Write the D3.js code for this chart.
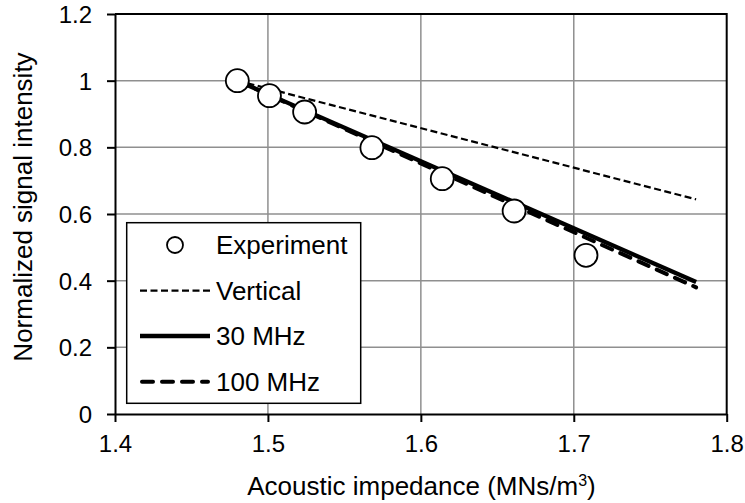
<!DOCTYPE html>
<html>
<head>
<meta charset="utf-8">
<script src="https://cdn.jsdelivr.net/npm/d3@7"></script>
<style>
  html, body { margin: 0; padding: 0; background: #fff; }
  svg { display: block; font-family: "Liberation Sans", Arial, sans-serif; }
</style>
</head>
<body>
<svg id="chart" width="745" height="503"></svg>
<script>
// Measured signal vs. acoustic impedance
const impedance = [1.48, 1.501, 1.524, 1.568, 1.614, 1.661, 1.708];
const experiment = [1.0, 0.955, 0.906, 0.799, 0.706, 0.609, 0.476];

// Model curves (start and end of each fitted line)
const modelImpedance = [1.48, 1.78];
const vertical = [1.0, 0.644];
const mhz30 = [1.0, 0.396];
const mhz100 = [1.0, 0.380];

const xTicks = [1.4, 1.5, 1.6, 1.7, 1.8];
const yTicks = [0, 0.2, 0.4, 0.6, 0.8, 1.0, 1.2];
const xTickLabels = ["1.4", "1.5", "1.6", "1.7", "1.8"];
const yTickLabels = ["0", "0.2", "0.4", "0.6", "0.8", "1", "1.2"];

const legendLabels = ["Experiment", "Vertical", "30 MHz", "100 MHz"];

const svg = d3.select("#chart");
const plot = { left: 115, right: 726.7, top: 14, bottom: 414 };

const x = d3.scaleLinear().domain([1.4, 1.8]).range([plot.left, plot.right]);
const y = d3.scaleLinear().domain([0, 1.2]).range([plot.bottom, plot.top]);

// Gridlines
const grid = svg.append("g").attr("stroke", "#8f8f8f").attr("stroke-width", 1.5);
grid.selectAll("line.v").data(xTicks.slice(1, -1)).join("line")
  .attr("x1", d => x(d)).attr("x2", d => x(d))
  .attr("y1", plot.top).attr("y2", plot.bottom);
grid.selectAll("line.h").data(yTicks.slice(1, -1)).join("line")
  .attr("x1", plot.left).attr("x2", plot.right)
  .attr("y1", d => y(d)).attr("y2", d => y(d));

// Frame: top and right edges
svg.append("path")
  .attr("d", `M${plot.left},${plot.top}H${plot.right}V${plot.bottom}`)
  .attr("fill", "none").attr("stroke", "#000").attr("stroke-width", 2);

// Axes
const xAxis = d3.axisBottom(x).tickValues(xTicks)
  .tickFormat((d, i) => xTickLabels[i]).tickSize(8).tickPadding(8).tickSizeOuter(0);
const yAxis = d3.axisLeft(y).tickValues(yTicks)
  .tickFormat((d, i) => yTickLabels[i]).tickSize(8).tickPadding(15).tickSizeOuter(0);

const gx = svg.append("g").attr("transform", `translate(0,${plot.bottom})`).call(xAxis);
const gy = svg.append("g").attr("transform", `translate(${plot.left},0)`).call(yAxis);
[gx, gy].forEach(g => {
  g.select(".domain").attr("stroke", "#000").attr("stroke-width", 2);
  g.selectAll(".tick line").attr("stroke", "#000").attr("stroke-width", 2);
  g.selectAll(".tick text").attr("fill", "#000")
    .style("font-size", "24px").style("font-family", "'Liberation Sans', Arial, sans-serif");
});
gy.selectAll(".tick text").attr("dy", "0.36em");
gx.selectAll(".tick text").attr("dy", "0.9em");

// Model lines
const line = d3.line().x(d => x(d[0])).y(d => y(d[1]));
const series = [
  { values: vertical, width: 2.2, dash: "7,3.5", cap: "butt" },
  { values: mhz100, width: 4, dash: "11,9", cap: "round" },
  { values: mhz30, width: 4.3, dash: null, cap: "butt" }
];
series.forEach(s => {
  svg.append("path")
    .datum(modelImpedance.map((v, i) => [v, s.values[i]]))
    .attr("d", line)
    .attr("fill", "none")
    .attr("stroke", "#000")
    .attr("stroke-width", s.width)
    .attr("stroke-dasharray", s.dash)
    .attr("stroke-linecap", s.cap);
});

// Experimental points
svg.append("g").selectAll("circle")
  .data(impedance.map((v, i) => [v, experiment[i]]))
  .join("circle")
  .attr("cx", d => x(d[0])).attr("cy", d => y(d[1]))
  .attr("r", 11.5)
  .attr("fill", "#fff").attr("stroke", "#000").attr("stroke-width", 1.8);

// Legend
const legend = svg.append("g");
legend.append("rect")
  .attr("x", 126.7).attr("y", 222.7).attr("width", 234).attr("height", 180.6)
  .attr("fill", "#fff").attr("stroke", "#000").attr("stroke-width", 1.5);

const rowY = [245, 290.7, 336, 381.7];
const lx1 = 140, lx2 = 210, tx = 216;
legend.append("circle").attr("cx", 175).attr("cy", rowY[0]).attr("r", 8)
  .attr("fill", "#fff").attr("stroke", "#000").attr("stroke-width", 1.8);
[series[0], series[2], series[1]].forEach((s, i) => {
  legend.append("line")
    .attr("x1", lx1 + (s.cap === "round" ? 2 : 0)).attr("x2", lx2 - (s.cap === "round" ? 2 : 0))
    .attr("y1", rowY[i + 1]).attr("y2", rowY[i + 1])
    .attr("stroke", "#000").attr("stroke-width", s.width)
    .attr("stroke-dasharray", s.dash).attr("stroke-linecap", s.cap);
});
legend.selectAll("text").data(legendLabels).join("text")
  .attr("x", tx).attr("y", (d, i) => rowY[i] + 9)
  .style("font-size", "26px")
  .text(d => d);

// Axis titles
const xTitle = svg.append("text")
  .attr("x", 421.5).attr("y", 495)
  .attr("text-anchor", "middle")
  .style("font-size", "26px");
xTitle.append("tspan").text("Acoustic impedance (MNs/m");
xTitle.append("tspan").attr("dy", "-9").style("font-size", "16px").text("3");
xTitle.append("tspan").attr("dy", "9").text(")");

svg.append("text")
  .attr("transform", "translate(31.5,207) rotate(-90)")
  .attr("text-anchor", "middle")
  .style("font-size", "26px")
  .text("Normalized signal intensity");
</script>
</body>
</html>
